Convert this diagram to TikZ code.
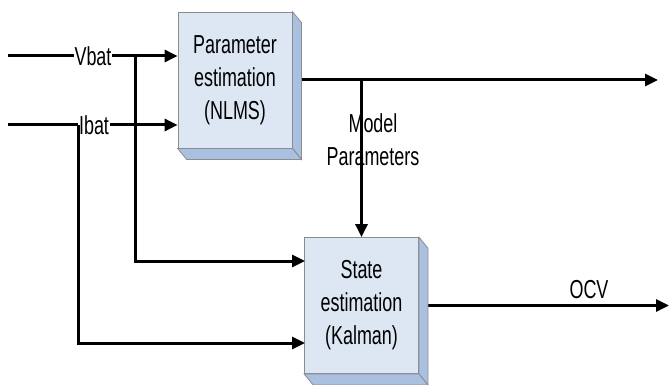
\documentclass[tikz,border=0pt]{standalone}
\usepackage{fontspec}
\setmainfont{Liberation Sans}[FakeStretch=0.69]
\usetikzlibrary{arrows.meta,calc}

\definecolor{boxfront}{HTML}{DDE7F3}
\definecolor{boxside}{HTML}{A9C0E0}
\definecolor{boxedge}{HTML}{8C8C8C}

\begin{document}
\begin{tikzpicture}[
    x=1pt, y=-1pt,
    font=\fontsize{26}{33}\selectfont,
    block/.style={draw=boxedge, line width=0.8pt, fill=boxfront,
                  minimum width=114pt, minimum height=136pt, align=center,
                  inner sep=0pt},
    depth/.style={draw=boxedge, line width=0.8pt, fill=boxside},
    wire/.style={line width=3pt},
    arr/.style={wire, -{Triangle[length=13pt,width=12pt]}},
    sig/.style={fill=white, inner sep=1pt},
]
\useasboundingbox (0,0) rectangle (669,385);

% blocks
\node[block] (pe) at (235,80)    {Parameter\\estimation\\(NLMS)};
\node[block] (se) at (361.5,305.5) {State\\estimation\\(Kalman)};

% inputs
\coordinate (vin)  at (8,56);
\coordinate (iin)  at (8,125);
\coordinate (vbr)  at (135,56);
\coordinate (ibr)  at (78,125);
\coordinate (kin1) at (305,261);
\coordinate (kin2) at (305,343);

\draw[arr] (vin) -- (pe.west |- vin);
\draw[arr] (iin) -- (pe.west |- iin);
\node[sig] (vbat) at (93,56)  {Vbat};
\node[sig] (ibat) at (94,125) {Ibat};
\draw[arr] (vbr) |- (kin1);
\draw[arr] (ibr) |- (kin2);

% outputs
\coordinate (pout) at (658,80);
\coordinate (sout) at (669,305.5);
\draw[arr] (pe.east) -- (pout);
\draw[arr] (se.north |- pe.east) -- (se.north);
\node[align=center] (mp) at (373,140) {Model\\Parameters};
\draw[arr] (se.east) -- (sout);
\node (ocv) at (589,290) {OCV};

% 3d faces
\foreach \b in {pe,se} {
    \draw[depth] (\b.north east) -- ++(9,11) -- ($(\b.south east)+(9,11)$)
        -- (\b.south east) -- cycle;
    \draw[depth] (\b.south west) -- (\b.south east) -- ($(\b.south east)+(9,11)$)
        -- ($(\b.south west)+(9,11)$) -- cycle;
}
\end{tikzpicture}
\end{document}
